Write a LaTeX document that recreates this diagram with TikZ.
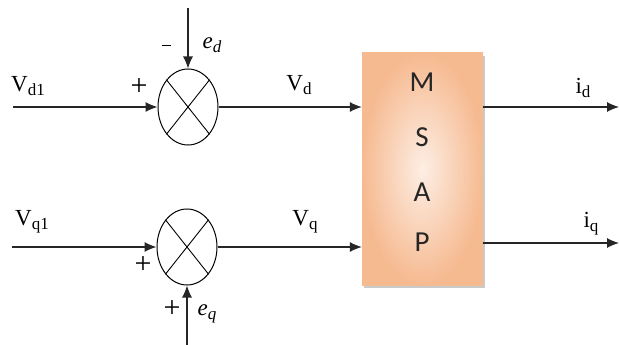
\documentclass[tikz,border=0pt]{standalone}
\usepackage{fontspec}
\setmainfont{Liberation Serif}
\newfontfamily\blockfont{Carlito}
\usetikzlibrary{arrows.meta,shapes.geometric,shadows}

\definecolor{pmsmout}{RGB}{246,186,145}
\definecolor{pmsmin}{RGB}{253,238,228}

% subscript helper for upright and italic labels
\newcommand{\lowsub}[1]{\raisebox{-0.4ex}{\fontsize{17}{19}\selectfont #1}}

\begin{document}
\begin{tikzpicture}[x=1pt,y=-1pt,
    wire/.style={line width=1.1pt, draw=black!85},
    arr/.style={wire, -{Latex[length=12pt,width=10pt]}},
    summer/.style={ellipse, draw, line width=1pt, minimum width=60pt, minimum height=76pt, inner sep=0pt},
    lbl/.style={inner sep=0pt, font=\fontsize{23}{26}\selectfont},
    sign/.style={inner sep=0pt, font=\fontsize{30}{32}\selectfont},
    letter/.style={inner sep=0pt, font=\blockfont\fontsize{29}{32}\selectfont, text=black!85},
    plant/.style={rectangle, minimum width=121pt, minimum height=232pt, inner sep=0pt,
      inner color=pmsmin, outer color=pmsmout,
      drop shadow={shadow xshift=2pt, shadow yshift=-3pt, fill=black!35, opacity=0.6}}
  ]
  \useasboundingbox (0,0) rectangle (619,345);

  % summing junctions
  \node[summer] (s1) at (188,107) {};
  \node[summer] (s2) at (187,247) {};
  \foreach \s in {s1,s2} {
    \draw[line width=0.9pt] (\s.north west) -- (\s.south east);
    \draw[line width=0.9pt] (\s.north east) -- (\s.south west);
  }

  % machine block
  \node[plant] (pmsm) at (422.5,169) {};
  \node[letter] (lm) at (422,82) {M};
  \node[letter] (ls) at (422,137) {S};
  \node[letter] (la) at (422,192) {A};
  \node[letter] (lp) at (422,242) {P};

  % free ends of the connectors
  \coordinate (vd1) at (13,107);
  \coordinate (vq1) at (12,247);
  \coordinate (edin) at (188,8);
  \coordinate (eqin) at (187,345);
  \coordinate (idout) at (619,107);
  \coordinate (iqout) at (619,243);

  % connectors
  \draw[arr] (vd1) -- (s1.west);
  \draw[arr] (vq1) -- (s2.west);
  \draw[arr] (edin) -- (s1.north);
  \draw[arr] (eqin) -- (s2.south);
  \draw[arr] (s1.east) -- (s1.east -| pmsm.west);
  \draw[arr] (s2.east) -- (s2.east -| pmsm.west);
  \draw[arr] (pmsm.east |- idout) -- (idout);
  \draw[arr] (pmsm.east |- iqout) -- (iqout);

  % signal labels
  \node[lbl] (tvd1) at (28,86) {V\lowsub{d1}};
  \node[lbl] (tvd) at (299,85) {V\lowsub{d}};
  \node[lbl] (tvq1) at (32,222) {V\lowsub{q1}};
  \node[lbl] (tvq) at (305,222) {V\lowsub{q}};
  \node[lbl] (ted) at (212,45) {\textit{e}\lowsub{\textit{d}}};
  \node[lbl] (teq) at (207,314) {\textit{e}\lowsub{\textit{q}}};
  \node[lbl] (tid) at (583,88) {i\lowsub{d}};
  \node[lbl] (tiq) at (591,224) {i\lowsub{q}};

  % signs at the junction inputs
  \node[sign] (p1) at (139,87) {+};
  \node[sign] (m1) at (166,49) {\rule[0.5ex]{9pt}{1.1pt}};
  \node[sign] (p2) at (143,265) {+};
  \node[sign] (p3) at (172,309) {+};
\end{tikzpicture}
\end{document}
